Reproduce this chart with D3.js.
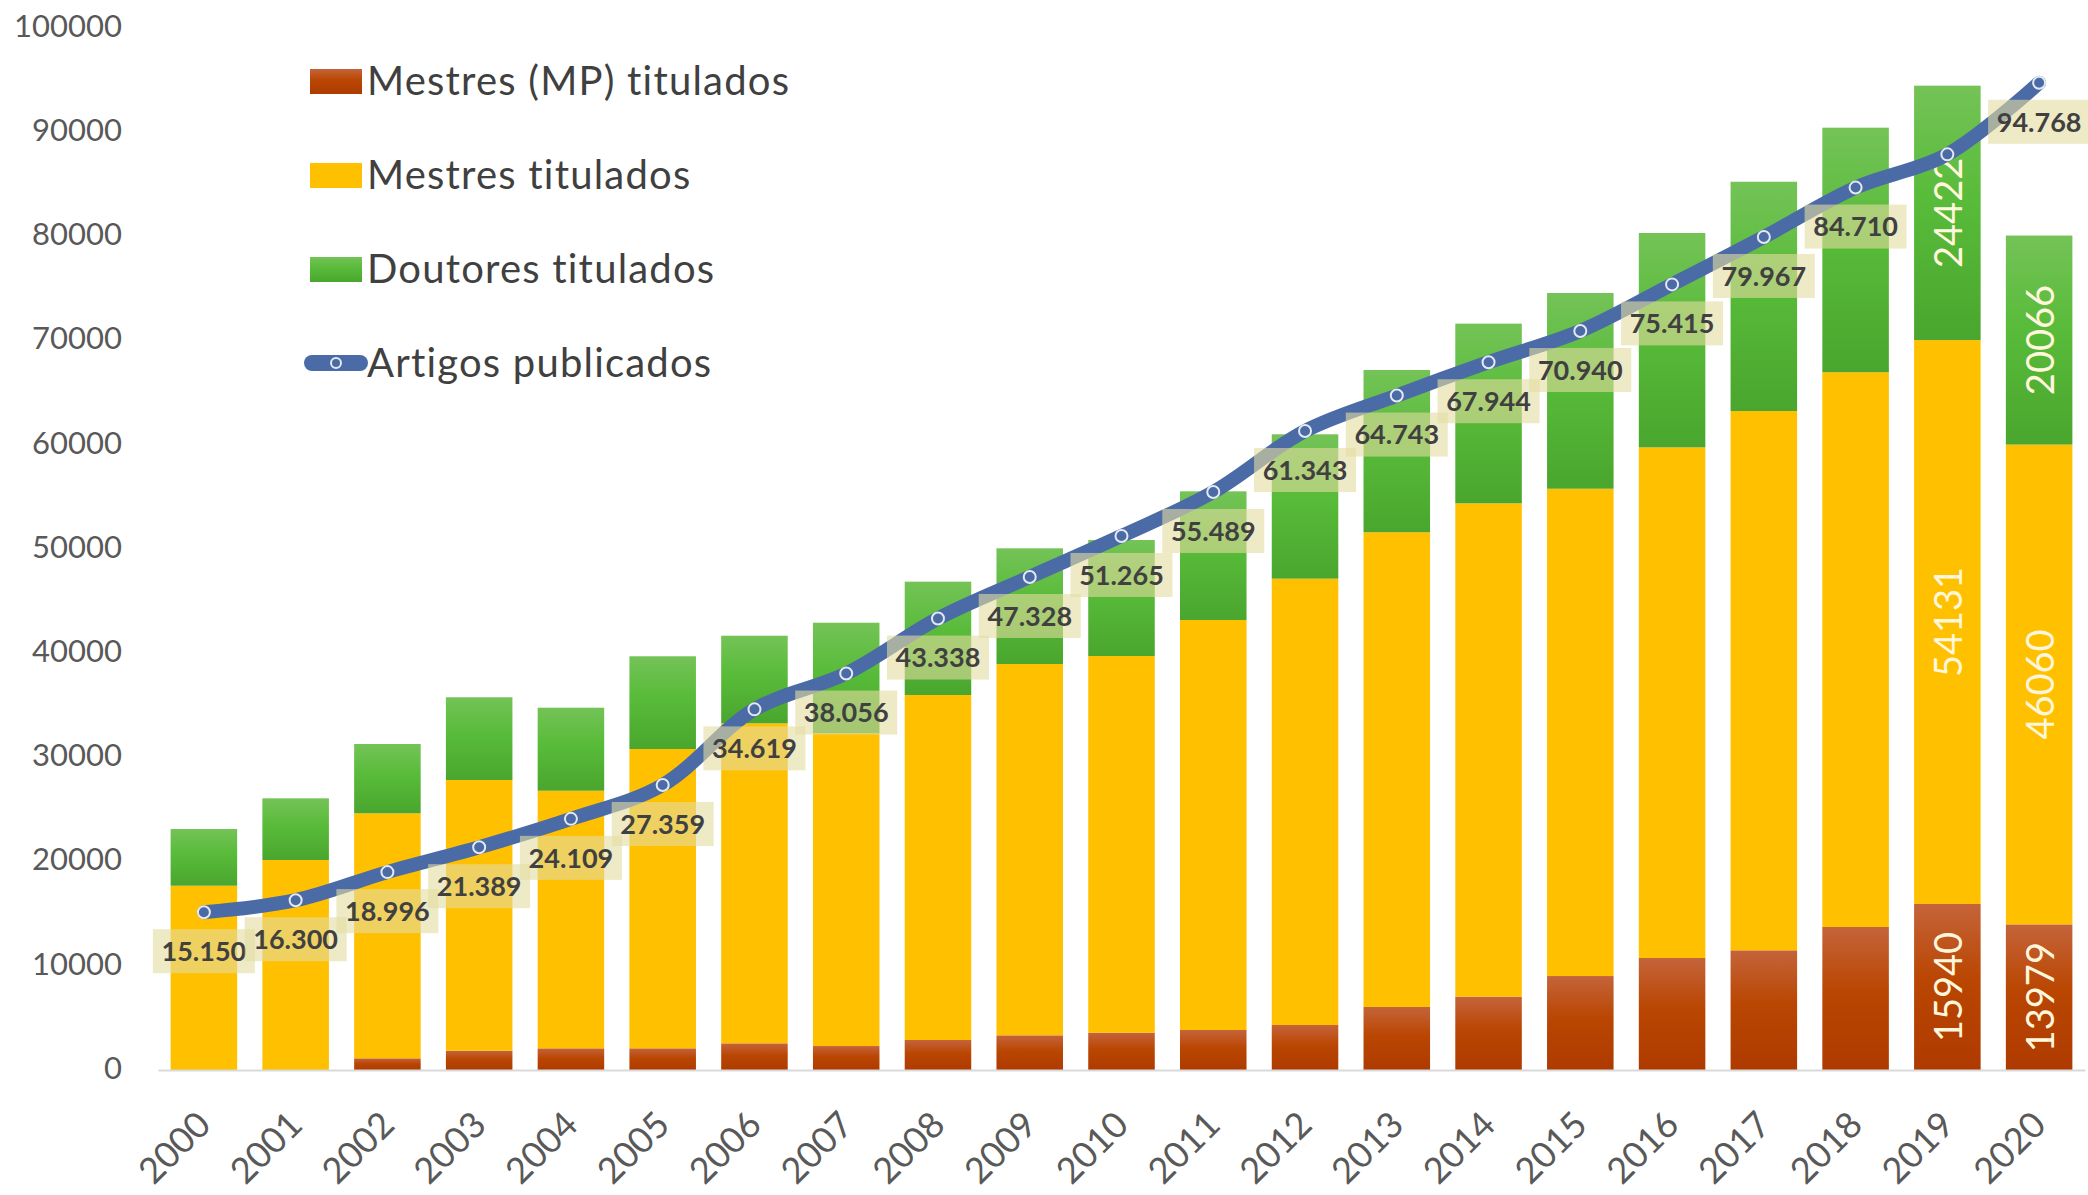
<!DOCTYPE html>
<html lang="pt">
<head>
<meta charset="utf-8">
<title>Titulados e artigos publicados</title>
<script src="https://cdn.jsdelivr.net/npm/d3@7"></script>
<style>
body { margin: 0; background: #fff; }
#chart text { font-family: Lato, "Open Sans", sans-serif; }
.eixo text { fill: #595959; }
.legenda text { fill: #404040; font-size: 40px; letter-spacing: 1.2px; }
.rotulo-linha { fill: #404040; font-size: 27px; font-weight: bold; }
.rotulo-barra { fill: #fff6dc; font-size: 38px; }
</style>
</head>
<body>
<svg id="chart" width="2088" height="1195"></svg>
<script>
var years = ["2000","2001","2002","2003","2004","2005","2006","2007","2008","2009","2010",
             "2011","2012","2013","2014","2015","2016","2017","2018","2019","2020"];
var mestresMP = [0, 0, 1120, 1850, 2080, 2080, 2560, 2300, 2880, 3330, 3580,
                 3840, 4320, 6050, 7040, 9020, 10750, 11490, 13730, 15940, 13979];
var mestres = [17690, 20160, 23520, 25990, 24730, 28735, 30720, 30020, 33120, 35645, 36160,
               39360, 42845, 45570, 47360, 46780, 49020, 51770, 53250, 54131, 46060];
var doutores = [5445, 5920, 6655, 7940, 7970, 8900, 8410, 10620, 10880, 11105, 11140,
                12350, 13860, 15580, 17250, 18790, 20580, 22010, 23480, 24422, 20066];
var artigos = [15150, 16300, 18996, 21389, 24109, 27359, 34619, 38056, 43338, 47328, 51265,
               55489, 61343, 64743, 67944, 70940, 75415, 79967, 84710, 87900, 94768];
var anosSemRotulo = ["2019"];
var anosComRotuloBarra = ["2019", "2020"];
var yTicks = [0, 10000, 20000, 30000, 40000, 50000, 60000, 70000, 80000, 90000, 100000];
var series = [
  { key: "mp", nome: "Mestres (MP) titulados", valores: mestresMP, cor: "url(#grad-mp)" },
  { key: "me", nome: "Mestres titulados", valores: mestres, cor: "#FFC000" },
  { key: "dr", nome: "Doutores titulados", valores: doutores, cor: "url(#grad-dr)" }
];

var svg = d3.select("#chart");
var fmt = d3.formatLocale({ decimal: ",", thousands: ".", grouping: [3], currency: ["", ""] }).format(",");

var x = d3.scaleBand().domain(years).range([158, 2085]).paddingInner(0.275).paddingOuter(0.1375);
var y = d3.scaleLinear().domain([0, 100000]).range([1070, 28.3]);

// gradients like the excel fills
var defs = svg.append("defs");
function grad(id, stops) {
  var g = defs.append("linearGradient").attr("id", id)
    .attr("x1", 0).attr("y1", 0).attr("x2", 0).attr("y2", 1);
  stops.forEach(function(s) { g.append("stop").attr("offset", s[0]).attr("stop-color", s[1]); });
}
grad("grad-mp", [[0, "#C4643A"], [0.45, "#BA4602"], [1, "#AE3A00"]]);
grad("grad-dr", [[0, "#74C357"], [0.45, "#58BB39"], [1, "#4AA62E"]]);

// stacked data
var tabela = years.map(function(ano, i) {
  return { ano: ano, mp: mestresMP[i], me: mestres[i], dr: doutores[i] };
});
var stack = d3.stack().keys(["mp", "me", "dr"])(tabela);

var camadas = svg.append("g").selectAll("g")
  .data(stack).enter().append("g")
  .attr("fill", function(d, i) { return series[i].cor; });

camadas.selectAll("rect")
  .data(function(d) { return d; })
  .enter().append("rect")
  .attr("x", function(d) { return x(d.data.ano); })
  .attr("y", function(d) { return y(d[1]); })
  .attr("width", x.bandwidth())
  .attr("height", function(d) { return y(d[0]) - y(d[1]); });

// y axis
var gy = svg.append("g").attr("class", "eixo")
  .attr("transform", "translate(122,-3)")
  .call(d3.axisLeft(y).tickValues(yTicks).tickSize(0).tickPadding(0).tickFormat(d3.format("d")));
gy.select(".domain").remove();
gy.selectAll("text").style("font-size", "31px").attr("dy", "0.36em");

// x axis
var gx = svg.append("g").attr("class", "eixo")
  .attr("transform", "translate(0," + y(0) + ")")
  .call(d3.axisBottom(x).tickSize(0).tickSizeOuter(0));
gx.select(".domain").attr("stroke", "#d9d9d9").attr("stroke-width", 2);
gx.selectAll("text")
  .style("font-size", "36px")
  .attr("text-anchor", "end")
  .attr("dy", 0)
  .attr("y", 0)
  .attr("transform", "translate(9,57) rotate(-45)");

// value labels inside the last bars
var rotBarras = [];
stack.forEach(function(camada) {
  camada.forEach(function(d) {
    if (anosComRotuloBarra.indexOf(d.data.ano) >= 0) {
      rotBarras.push({ ano: d.data.ano, v: d[1] - d[0], meio: (d[0] + d[1]) / 2 });
    }
  });
});
svg.append("g").selectAll("text")
  .data(rotBarras).enter().append("text")
  .attr("class", "rotulo-barra")
  .attr("text-anchor", "middle")
  .attr("dominant-baseline", "central")
  .attr("transform", function(d) {
    return "translate(" + (x(d.ano) + x.bandwidth() / 2) + "," + y(d.meio) + ") rotate(-90)";
  })
  .text(function(d) { return d.v; });

// articles line
var pontos = years.map(function(ano, i) { return { ano: ano, v: artigos[i] }; });
var cx = function(d) { return x(d.ano) + x.bandwidth() / 2; };
var linha = d3.line().x(cx).y(function(d) { return y(d.v); }).curve(d3.curveCatmullRom.alpha(0.5));

svg.append("path")
  .datum(pontos)
  .attr("d", linha)
  .attr("fill", "none")
  .attr("stroke", "#4B6BA6")
  .attr("stroke-width", 14)
  .attr("stroke-linejoin", "round")
  .attr("stroke-linecap", "round");

svg.append("g").selectAll("circle")
  .data(pontos).enter().append("circle")
  .attr("cx", cx)
  .attr("cy", function(d) { return y(d.v); })
  .attr("r", 6)
  .attr("fill", "#4B6BA6")
  .attr("stroke", "#e4e9f2")
  .attr("stroke-width", 2);

var rot = svg.append("g").selectAll("g")
  .data(pontos.filter(function(d) { return anosSemRotulo.indexOf(d.ano) < 0; }))
  .enter().append("g")
  .attr("transform", function(d) { return "translate(" + cx(d) + "," + (y(d.v) + 39) + ")"; });
rot.append("rect")
  .attr("x", -51).attr("y", -22).attr("width", 102).attr("height", 44)
  .attr("fill", "rgb(226,220,160)").attr("fill-opacity", 0.6);
rot.append("text")
  .attr("class", "rotulo-linha")
  .attr("text-anchor", "middle")
  .attr("dy", "0.36em")
  .text(function(d) { return fmt(d.v); });

// legend
var legenda = svg.append("g").attr("class", "legenda");
var itens = series.concat([{ key: "art", nome: "Artigos publicados" }]);
var leg = legenda.selectAll("g").data(itens).enter().append("g")
  .attr("transform", function(d, i) { return "translate(310," + (81 + i * 94) + ")"; });
leg.filter(function(d) { return d.key !== "art"; })
  .append("rect")
  .attr("x", 0).attr("y", -12).attr("width", 52).attr("height", 25)
  .attr("fill", function(d) { return d.cor; });
var la = leg.filter(function(d) { return d.key === "art"; });
la.append("line")
  .attr("x1", 2).attr("x2", 50).attr("y1", 0).attr("y2", 0)
  .attr("stroke", "#4B6BA6").attr("stroke-width", 16).attr("stroke-linecap", "round");
la.append("circle").attr("cx", 26).attr("cy", 0).attr("r", 5)
  .attr("fill", "#4B6BA6").attr("stroke", "#e4e9f2").attr("stroke-width", 2);
leg.append("text")
  .attr("x", 57)
  .attr("dy", "0.36em")
  .text(function(d) { return d.nome; });
</script>
</body>
</html>
